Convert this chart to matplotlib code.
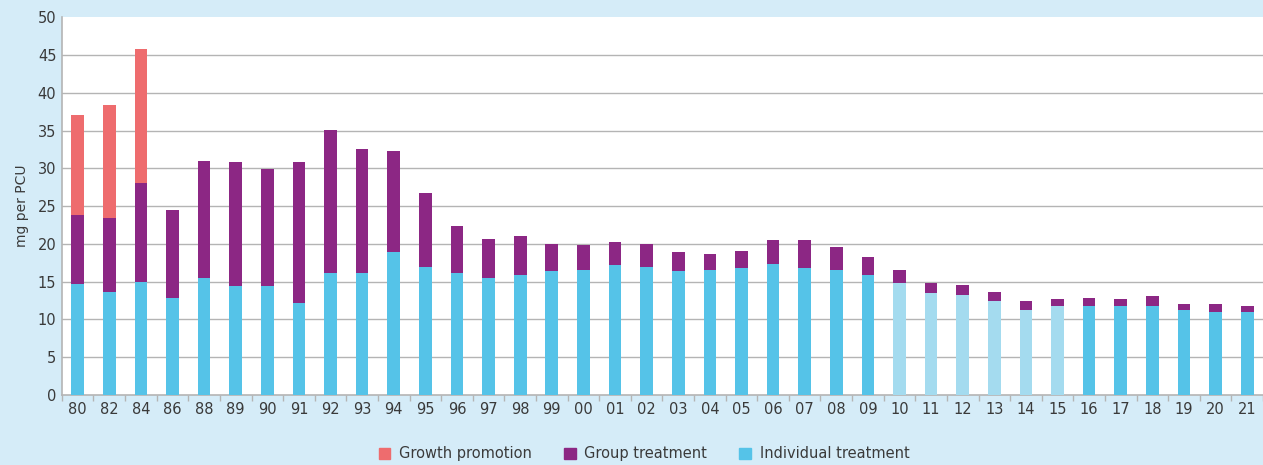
import numpy as np
import matplotlib.pyplot as plt
from matplotlib.patches import Patch

years = ['80', '82', '84', '86', '88', '89', '90', '91', '92', '93', '94', '95',
         '96', '97', '98', '99', '00', '01', '02', '03', '04', '05', '06', '07',
         '08', '09', '10', '11', '12', '13', '14', '15', '16', '17', '18', '19',
         '20', '21']
individual = [14.7, 13.6, 15.0, 12.9, 15.5, 14.4, 14.4, 12.2, 16.1, 16.1, 18.9, 17.0,
              16.2, 15.5, 15.9, 16.4, 16.6, 17.2, 17.0, 16.4, 16.6, 16.8, 17.4, 16.8,
              16.6, 15.9, 14.8, 13.5, 13.3, 12.5, 11.2, 11.8, 11.8, 11.8, 11.8, 11.2,
              11.0, 11.0]
group = [9.1, 9.8, 13.0, 11.6, 15.5, 16.4, 15.5, 18.6, 19.0, 16.4, 13.4, 9.7,
         6.2, 5.2, 5.2, 3.6, 3.2, 3.1, 3.0, 2.5, 2.1, 2.3, 3.1, 3.7,
         3.0, 2.4, 1.75, 1.35, 1.3, 1.1, 1.3, 0.85, 1.1, 0.9, 1.3, 0.8,
         1.0, 0.8]
growth = [13.3, 15.0, 17.8] + [0] * 35
# years where individual treatment is shown in a lighter shade
light_years = ['10', '11', '12', '13', '14', '15']

bg = '#D5ECF8'
c_growth = '#EE6C6E'
c_group = '#8C2784'
c_ind = '#55C3E8'
c_ind_light = '#A4DBEF'

x = np.arange(len(years))
ind = np.array(individual)
grp = np.array(group)
gro = np.array(growth)
ind_colors = [c_ind_light if y in light_years else c_ind for y in years]

fig = plt.figure(figsize=(12.63, 4.65), dpi=100, facecolor=bg)
ax = fig.add_axes([0.049, 0.1505, 0.951, 0.8125])
ax.set_facecolor('white')

w = 0.4
ax.bar(x, ind, width=w, color=ind_colors, zorder=3)
ax.bar(x, grp, width=w, bottom=ind, color=c_group, zorder=3)
ax.bar(x, gro, width=w, bottom=ind + grp, color=c_growth, zorder=3)

ax.set_ylim(0, 50)
ax.set_xlim(-0.5, 37.45)
ax.set_yticks(range(0, 51, 5))
for v in range(5, 50, 5):
    ax.axhline(v, color='#B4B4B4', linewidth=1.0, zorder=0)
ax.tick_params(axis='y', length=0, labelsize=10.5, colors='#3a3a3a', pad=4)

ax.set_xticks(x)
ax.set_xticklabels(years)
ax.set_xticks(np.arange(-0.5, len(years), 1), minor=True)
ax.tick_params(axis='x', which='major', length=0, labelsize=10.5, colors='#3a3a3a', pad=5)
ax.tick_params(axis='x', which='minor', length=4, color='#B4B4B4', width=1)

for s in ['top', 'right']:
    ax.spines[s].set_visible(False)
for s in ['left', 'bottom']:
    ax.spines[s].set_color('#B4B4B4')
    ax.spines[s].set_linewidth(1.2)

ax.set_ylabel('mg per PCU', fontsize=10, color='#3a3a3a', labelpad=6)

handles = [Patch(color=c_growth, label='Growth promotion'),
           Patch(color=c_group, label='Group treatment'),
           Patch(color=c_ind, label='Individual treatment')]
fig.legend(handles=handles, loc='center', bbox_to_anchor=(0.51, 0.024), ncol=3,
           frameon=False, fontsize=10.5, handlelength=0.8, handleheight=0.8,
           columnspacing=2.2, handletextpad=0.6, labelcolor='#3a3a3a',
           borderpad=0.1)

fig.savefig('out.png', dpi=100, facecolor=bg)
